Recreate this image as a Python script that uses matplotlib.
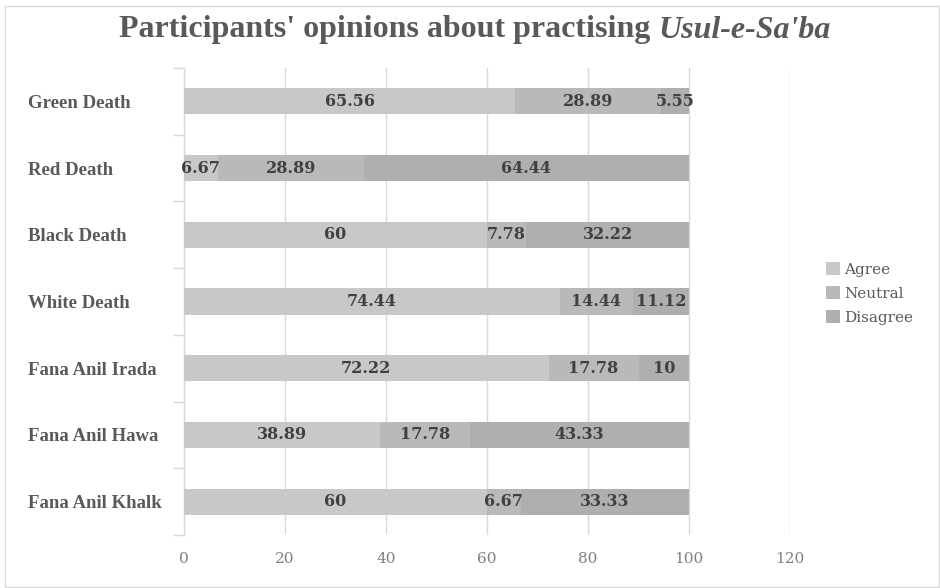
import matplotlib
matplotlib.use("Agg")
import matplotlib.pyplot as plt
from matplotlib.patches import Rectangle, Patch
from matplotlib.ticker import FixedLocator

categories = ["Green Death", "Red Death", "Black Death", "White Death",
              "Fana Anil Irada", "Fana Anil Hawa", "Fana Anil Khalk"]
agree = [65.56, 6.67, 60, 74.44, 72.22, 38.89, 60]
neutral = [28.89, 28.89, 7.78, 14.44, 17.78, 17.78, 6.67]
disagree = [5.55, 64.44, 32.22, 11.12, 10, 43.33, 33.33]
series_names = ["Agree", "Neutral", "Disagree"]
x_ticks = [0, 20, 40, 60, 80, 100, 120]

colors = ["#c8c8c8", "#b9b9b9", "#afafaf"]
label_color = "#404040"
text_gray = "#595959"
grid_gray = "#d9d9d9"

W, H = 940, 588
fig = plt.figure(figsize=(W / 100, H / 100), dpi=100)
fig.patch.set_facecolor("white")

# outer chart frame
fig.add_artist(Rectangle((5 / W, 1 / H), (W - 6) / W, (H - 7) / H,
                         transform=fig.transFigure, fill=False,
                         edgecolor="#d9d9d9", lw=1))

ax_left_px = 184
ax = fig.add_axes([ax_left_px / W, 1 - 535 / H, (790 - ax_left_px) / W, (535 - 68) / H])
ax.set_xlim(0, 120)
n = len(categories)
ax.set_ylim(n - 0.5, -0.5)

ypos = list(range(n))
bar_h = 0.39
left = [0] * n
for vals, col in zip([agree, neutral, disagree], colors):
    ax.barh(ypos, vals, left=left, height=bar_h, color=col, edgecolor="none", zorder=3)
    for y, v, l in zip(ypos, vals, left):
        ax.text(l + v / 2, y, f"{v:g}", ha="center", va="center",
                fontsize=11.5, fontweight="bold", color=label_color,
                family="DejaVu Serif", zorder=4)
    left = [l + v for l, v in zip(left, vals)]

# axes styling
for s in ["top", "right", "bottom"]:
    ax.spines[s].set_visible(False)
ax.spines["left"].set_color(grid_gray)
ax.spines["left"].set_linewidth(1)
ax.set_xticks(x_ticks)
ax.xaxis.grid(True, color=grid_gray, lw=1, zorder=0)
ax.tick_params(axis="x", length=0, pad=12, labelsize=11, labelcolor="#7f7f7f")
for t in ax.get_xticklabels():
    t.set_family("DejaVu Serif")

# category labels, left-aligned at a fixed column
label_col_px = 28
ax.set_yticks(ypos)
ax.set_yticklabels(categories)
ax.yaxis.set_minor_locator(FixedLocator([i - 0.5 for i in range(n + 1)]))
ax.tick_params(axis="y", which="major", length=0,
               pad=(ax_left_px - label_col_px) * 72 / 100,
               labelsize=13.5, labelcolor=text_gray)
ax.tick_params(axis="y", which="minor", length=8, color=grid_gray, width=1)
for t in ax.get_yticklabels():
    t.set_family("Liberation Serif")
    t.set_fontweight("bold")
    t.set_ha("left")

# legend
handles = [Patch(facecolor=c, edgecolor="none") for c in colors]
leg = fig.legend(handles, series_names, loc="upper left",
                 bbox_to_anchor=(820 / W, 1 - 256 / H), frameon=False,
                 prop={"family": "DejaVu Serif", "size": 11},
                 handlelength=0.9, handleheight=0.9, handletextpad=0.3,
                 labelspacing=0.62, borderaxespad=0)
for t in leg.get_texts():
    t.set_color(text_gray)

# title with italic term
title_main = "Participants' opinions about practising "
title_it = "Usul-e-Sa'ba"
tkw = dict(fontsize=23, color=text_gray, family="Liberation Serif", fontweight="bold")
t1 = fig.text(0, 1 - 30 / H, title_main, ha="left", va="center", **tkw)
fig.canvas.draw()
r = fig.canvas.get_renderer()
w1 = t1.get_window_extent(r).width
t2 = fig.text(0, 1 - 30 / H, title_it, ha="left", va="center", style="italic", **tkw)
w2 = t2.get_window_extent(r).width
x0 = (475 - (w1 + w2) / 2)
t1.set_x(x0 / W)
t2.set_x((x0 + w1) / W)

fig.savefig("out.png", dpi=100)
